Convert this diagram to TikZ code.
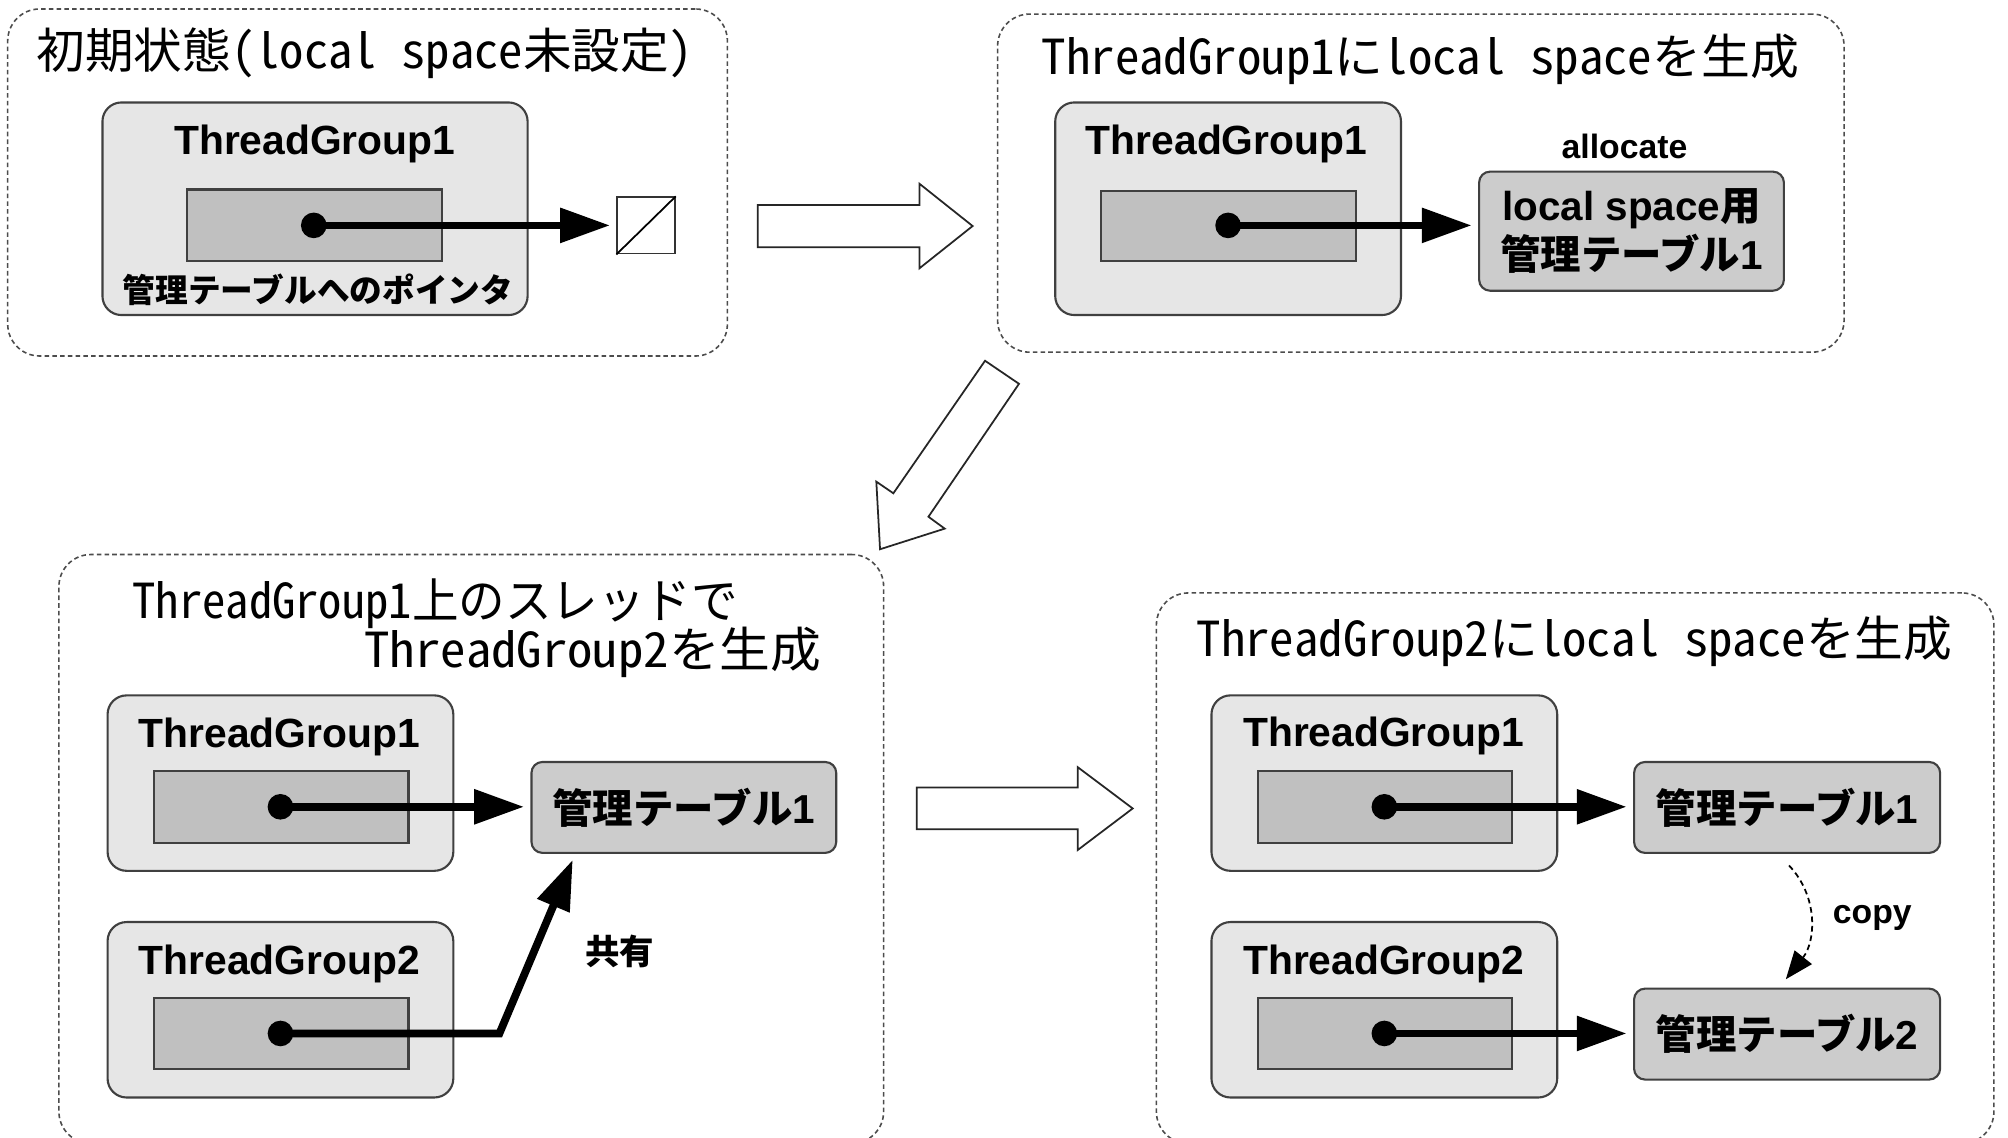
\documentclass[tikz,border=0pt]{standalone}
\usepackage{graphicx}
\usepackage{fontspec}
\setmainfont{Liberation Sans}
\newfontfamily\jpfont{Noto Sans CJK JP}
\newfontfamily\ttlfont{Noto Sans CJK JP}[RawFeature=+hwid]
\usetikzlibrary{arrows.meta}
\definecolor{tgfill}{HTML}{E6E6E6}
\definecolor{infill}{HTML}{C0C0C0}
\definecolor{tblfill}{HTML}{CCCCCC}
\newcommand\ttlfnt{\ttlfont\fontsize{13.7pt}{16pt}\selectfont}
\newcommand\lat[1]{{\rmfamily\bfseries #1}}
\newcommand\jpb[1]{{\jpfont\bfseries #1}}
\newcommand\bx[7]{\node[#2, minimum width={(#5-#3)*0.012806cm}, minimum height={(#6-#4)*0.012806cm}] (#1) at ({(#3+#5)/2},{(#4+#6)/2}) {#7};}
\begin{document}
\begin{tikzpicture}[x=0.012806cm,y=-0.012806cm,
  panel/.style={draw=black!70, line width=0.45pt, dash pattern=on 1.3pt off 0.9pt, rounded corners=0.32cm, inner sep=0},
  tgbox/.style={draw=black!75, line width=0.6pt, fill=tgfill, rounded corners=0.19cm, inner sep=0},
  infield/.style={draw=black!75, line width=0.6pt, fill=infill, inner sep=0},
  tblbox/.style={draw=black!75, line width=0.6pt, fill=tblfill, rounded corners=0.11cm, inner sep=0, align=center, font=\fontsize{11.5pt}{13.8pt}\selectfont},
  nullbox/.style={draw=black!80, line width=0.5pt, fill=white, inner sep=0},
  ptrdot/.style={circle, fill=black, minimum size=0.256cm, inner sep=0},
  ptr/.style={line width=2.2pt, -{Triangle[length=14.2pt,width=9.5pt]}, shorten >=1.8pt},
  copyarr/.style={line width=0.5pt, dash pattern=on 1.6pt off 1.1pt, -{Triangle[length=8pt,width=6.2pt]}},
  tglabel/.style={font=\fontsize{11.6pt}{14pt}\selectfont\bfseries, inner sep=0, anchor=base},
  ttl/.style={font=\ttlfnt, inner sep=0},
  note/.style={font=\fontsize{9.6pt}{12pt}\selectfont\bfseries, inner sep=0},
  blockarrow/.style={draw=black!85, line width=0.5pt, fill=white, line join=miter}
]
\useasboundingbox (0,0) rectangle (1568,888);
\clip (0,0) rectangle (1568,888);
\fill[white] (0,0) rectangle (1568,888);

% ---------- Panel 1 ----------
\bx{p1}{panel}{6}{7}{568}{278}{}
\node[ttl, anchor=base west] (t1) at (28,53.5) {\scalebox{1.01}[1]{初期状態(local space未設定)}};
\bx{tg1}{tgbox}{80}{80}{412}{246}{}
\node[tglabel] (tg1l) at (245.8,121) {ThreadGroup1};
\bx{f1}{infield}{146}{148}{345}{204}{}
\bx{null1}{nullbox}{482}{154}{527}{198}{}
\draw[line width=0.5pt] (null1.south west) -- (null1.north east);
\node[ptrdot] (d1) at (245,176) {};
\draw[ptr] (d1.center) -- (d1 -| null1.west);
\node[font=\fontsize{9.3pt}{12pt}\selectfont\jpfont\bfseries, inner sep=0] (ptrl) at (248.4,226.5) {管理テーブルへのポインタ};

% ---------- Arrow 1 ----------
\draw[blockarrow] (591.7,160) -- (718,160) -- (718,143.5) -- (759.5,176.5) -- (718,209.5) -- (718,193) -- (591.7,193) -- cycle;

% ---------- Panel 2 ----------
\bx{p2}{panel}{779}{11}{1440}{275}{}
\node[ttl, anchor=base west] (t2) at (813,58.5) {\scalebox{1.014}[1]{ThreadGroup1にlocal spaceを生成}};
\bx{tg2}{tgbox}{824}{80}{1094}{246}{}
\node[tglabel] (tg2l) at (957.7,121) {ThreadGroup1};
\bx{f2}{infield}{860}{149}{1059}{204}{}
\bx{tbl2}{tblbox}{1155}{134}{1393}{227}{\lat{local space}\jpb{用}\\\jpb{管理テーブル}\lat{1}}
\node[note, anchor=base] (alloc) at (1268.5,123.6) {allocate};
\node[ptrdot] (d2) at (959,176) {};
\draw[ptr] (d2.center) -- (d2 -| tbl2.west);

% ---------- Arrow 2 ----------
\draw[blockarrow] (769.2,281.7) -- (795.7,299.7) -- (725,403.5) -- (737.7,412.8) -- (687.2,428.9) -- (684.3,376.1) -- (697.6,385.2) -- cycle;

% ---------- Panel 3 ----------
\bx{p3}{panel}{46}{433}{690}{893}{}
\node[ttl, anchor=base west] (t3a) at (103,483) {\scalebox{0.967}[1]{ThreadGroup1上のスレッドで}};
\node[ttl, anchor=base east] (t3b) at (642,521.5) {\scalebox{1.054}[1]{ThreadGroup2を生成}};
\bx{tg3a}{tgbox}{84}{543}{354}{680}{}
\node[tglabel] (tg3al) at (218,584) {ThreadGroup1};
\bx{f3a}{infield}{120}{602}{319}{658}{}
\bx{tg3b}{tgbox}{84}{720}{354}{857}{}
\node[tglabel] (tg3bl) at (218,761) {ThreadGroup2};
\bx{f3b}{infield}{120}{779}{319}{835}{}
\bx{tbl3}{tblbox}{415}{595}{653}{666}{\jpb{管理テーブル}\lat{1}}
\node[ptrdot] (d3a) at (219,630) {};
\node[ptrdot] (d3b) at (219,807) {};
\coordinate (bend3) at (390,807);
\draw[ptr] (d3a.center) -- (d3a -| tbl3.west);
\draw[ptr, line join=miter] (d3b.center) -- (bend3) -- ([xshift=35*0.012806cm]tbl3.south west);
\node[font=\fontsize{9.8pt}{12pt}\selectfont\jpfont\bfseries, inner sep=0] (share) at (484,743) {共有};

% ---------- Arrow 3 ----------
\draw[blockarrow] (715.8,615) -- (841.5,615) -- (841.5,599) -- (884.5,631.3) -- (841.5,663.8) -- (841.5,647.6) -- (715.8,647.6) -- cycle;

% ---------- Panel 4 ----------
\bx{p4}{panel}{903}{463}{1557}{893}{}
\node[ttl, anchor=base west] (t4) at (934,513) {\scalebox{1.012}[1]{ThreadGroup2にlocal spaceを生成}};
\bx{tg4a}{tgbox}{946}{543}{1216}{680}{}
\node[tglabel] (tg4al) at (1080.5,583) {ThreadGroup1};
\bx{f4a}{infield}{982}{602}{1181}{658}{}
\bx{tg4b}{tgbox}{946}{720}{1216}{857}{}
\node[tglabel] (tg4bl) at (1080.5,761) {ThreadGroup2};
\bx{f4b}{infield}{982}{779}{1181}{835}{}
\bx{tbl4a}{tblbox}{1276}{595}{1515}{666}{\jpb{管理テーブル}\lat{1}}
\bx{tbl4b}{tblbox}{1276}{772}{1515}{843}{\jpb{管理テーブル}\lat{2}}
\node[ptrdot] (d4a) at (1081,630) {};
\node[ptrdot] (d4b) at (1081,807) {};
\draw[ptr] (d4a.center) -- (d4a -| tbl4a.west);
\draw[ptr] (d4b.center) -- (d4b -| tbl4b.west);
\draw[copyarr] ([shift={(1.5,9)}]tbl4a.south) .. controls (1420,700) and (1418,735) .. ([shift={(-1,-6.5)}]tbl4b.north);
\node[note, anchor=base] (copyl) at (1462,721.5) {copy};
\end{tikzpicture}
\end{document}
